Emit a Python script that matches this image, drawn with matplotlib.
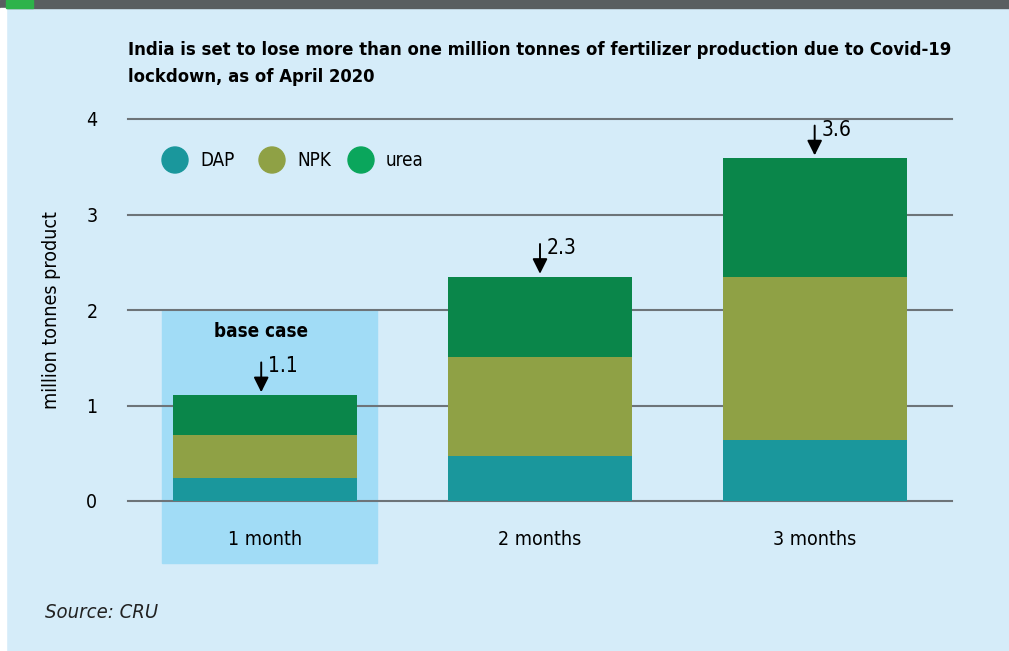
import matplotlib.pyplot as plt
from matplotlib.patches import Rectangle, Ellipse
import numpy as np

# data
periods = ['1 month', '2 months', '3 months']
dap = [0.24, 0.47, 0.64]
npk = [0.45, 1.04, 1.71]
urea = [0.42, 0.84, 1.24]
totals = ['1.1', '2.3', '3.6']

bg = '#d5ecf9'
c_dap = '#1a979c'
c_npk = '#8fa145'
c_urea = '#0a864a'
c_urea_leg = '#0aa65c'
grid_c = '#6d7479'

plt.rcParams['font.family'] = ['DejaVu Sans']
plt.rcParams['font.stretch'] = 'condensed'

fig = plt.figure(figsize=(10.09, 6.51), dpi=100, facecolor=bg)

# top band
fig.patches.append(Rectangle((0, 1 - 8 / 651), 1, 8 / 651, transform=fig.transFigure,
                             color='#595e60', zorder=0))
fig.patches.append(Rectangle((6 / 1009, 1 - 8 / 651), 27 / 1009, 8 / 651, transform=fig.transFigure,
                             color='#2db34a', zorder=1))
fig.patches.append(Rectangle((0, 0), 6 / 1009, 1 - 8 / 651, transform=fig.transFigure,
                             color='white', zorder=0))

ax = fig.add_axes([128 / 1009, 150 / 651, 824 / 1009, 382 / 651])
ax.set_facecolor('none')
ax.set_xlim(-0.5, 2.5)
ax.set_ylim(0, 4)
for s in ax.spines.values():
    s.set_visible(False)

x = np.arange(len(periods))
w = 0.67

# base case highlight
ax.add_patch(Rectangle((-0.376, -0.65), 0.781, 2.65, color='#a1dcf6', zorder=0, clip_on=False))

for v in range(5):
    ax.axhline(v, color=grid_c, lw=1.5, zorder=1, clip_on=False)

ax.bar(x, dap, w, color=c_dap, zorder=2)
ax.bar(x, npk, w, bottom=dap, color=c_npk, zorder=2)
b2 = np.array(dap) + np.array(npk)
ax.bar(x, urea, w, bottom=b2, color=c_urea, zorder=2)

tops = b2 + np.array(urea)
for i in range(len(periods)):
    xa = x[i] - (0.015 if i == 0 else 0)
    ax.annotate('', xy=(xa, tops[i]), xytext=(xa, tops[i] + 0.37),
                arrowprops=dict(arrowstyle='-|>,head_width=0.45,head_length=0.9', color='black', lw=1.4),
                zorder=4, annotation_clip=False)
    ax.text(xa + 0.025, tops[i] + 0.3, totals[i], fontsize=15,
            va='center', ha='left', zorder=4)

ax.text(-0.015, 1.77, 'base case', fontsize=13.5, fontweight='bold',
        ha='center', va='center')

ax.set_yticks(range(5))
ax.set_yticklabels([str(v) for v in range(5)], fontsize=14)
ax.tick_params(axis='y', length=0, pad=22)
ax.set_xticks(x)
ax.set_xticklabels(periods, fontsize=14)
ax.tick_params(axis='x', length=0, pad=21)
ax.set_ylabel('million tonnes product', fontsize=14, labelpad=18)

# legend
lx = [175, 272, 361]
lt = ['DAP', 'NPK', 'urea']
lc = [c_dap, c_npk, c_urea_leg]
for px, t, c in zip(lx, lt, lc):
    fig.patches.append(Ellipse((px / 1009, 1 - 160 / 651), 26 / 1009, 26 / 651,
                               transform=fig.transFigure, color=c, zorder=5))
    fig.text((px + 25) / 1009, 1 - 161 / 651, t, fontsize=13.5, va='center', ha='left')

fig.text(128 / 1009, 1 - 50 / 651,
         'India is set to lose more than one million tonnes of fertilizer production due to Covid-19',
         fontsize=13.2, fontweight='bold', va='center', ha='left')
fig.text(128 / 1009, 1 - 77 / 651, 'lockdown, as of April 2020',
         fontsize=13.2, fontweight='bold', va='center', ha='left')

fig.text(45 / 1009, 1 - 613 / 651, 'Source: CRU', fontsize=14.5, style='italic',
         va='center', ha='left', color='#222222')

fig.savefig('out.png', dpi=100, facecolor=bg)
